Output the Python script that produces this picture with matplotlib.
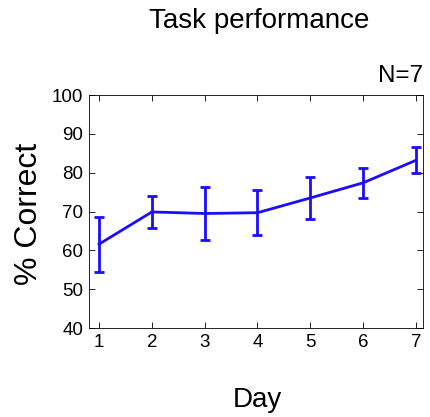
import matplotlib
matplotlib.use("Agg")
import matplotlib.pyplot as plt

days = [1, 2, 3, 4, 5, 6, 7]
pct_correct = [61.6, 69.9, 69.5, 69.7, 73.5, 77.4, 83.2]
sem = [7.1, 4.1, 6.9, 5.8, 5.3, 3.8, 3.3]

plt.rcParams["font.family"] = ["Liberation Sans", "DejaVu Sans"]

fig = plt.figure(figsize=(4.31, 4.17), dpi=100)
ax = fig.add_axes([0.2065, 0.2134, 0.7745, 0.5586])

ax.errorbar(days, pct_correct, yerr=sem, color="#1a0dff", lw=2,
            elinewidth=2, capsize=3.5, capthick=2)

ax.set_xlim(0.81, 7.13)
ax.set_ylim(40, 100)
ax.set_xticks(days)
ax.set_yticks(range(40, 101, 10))
ax.tick_params(direction="in", top=True, right=True, labelsize=13.5, length=4,
               width=0.6, pad=4)
for s in ax.spines.values():
    s.set_linewidth(0.6)

fig.text(0.602, 0.934, "Task performance", ha="center", va="baseline", fontsize=20)
fig.text(0.981, 0.804, "N=7", ha="right", va="baseline", fontsize=17.5)
fig.text(0.597, 0.025, "Day", ha="center", va="baseline", fontsize=20)
fig.text(0.067, 0.487, "% Correct", ha="center", va="center", fontsize=23,
         rotation=90)

fig.savefig("out.png", dpi=100)
